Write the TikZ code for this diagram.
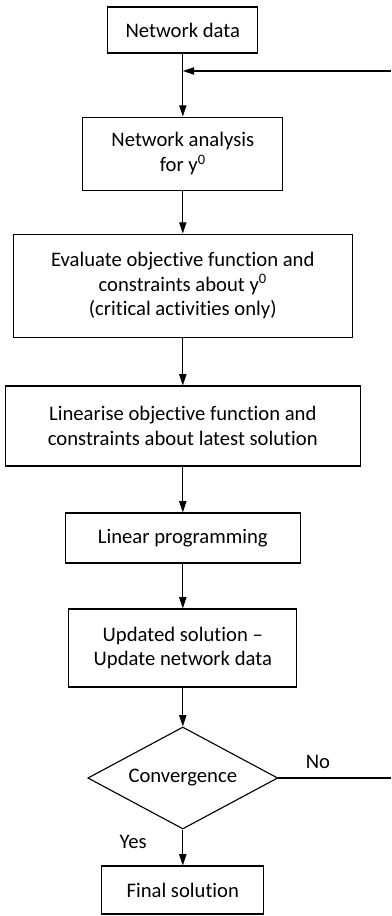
\documentclass[tikz,border=0pt]{standalone}
\usepackage{fontspec}
\setmainfont[Ligatures=NoCommon]{Carlito}
\usetikzlibrary{arrows.meta, shapes.geometric}

\begin{document}
\begin{tikzpicture}[
    stage/.style={draw, line width=0.8pt, align=center, inner sep=2pt,
                  font=\fontsize{14.7}{17.7}\selectfont},
    test/.style={stage, diamond, aspect=1.86, inner sep=0pt},
    lbl/.style={font=\fontsize{14.7}{17.7}\selectfont},
    arrow/.style={-{Triangle[length=2.8mm, width=1.8mm]}, line width=0.8pt},
    line/.style={line width=0.8pt}
]
    \useasboundingbox (0, 0) rectangle (9.775, -22.9);

    % --- main column of stages ---
    \node[stage, minimum width=3.75cm, minimum height=1.15cm] (data) at (4.57, -0.75) {Network data};
    \node[stage, minimum width=5.0cm, minimum height=1.825cm] (analysis) at (4.57, -3.84)
        {Network analysis\\for y\textsuperscript{0}};
    \node[stage, minimum width=8.475cm, minimum height=2.575cm] (evaluate) at (4.57, -7.14)
        {Evaluate objective function and\\constraints about y\textsuperscript{0}\\(critical activities only)};
    \node[stage, minimum width=8.875cm, minimum height=2.0cm] (linearise) at (4.57, -10.65)
        {Linearise objective function and\\constraints about latest solution};
    \node[stage, minimum width=5.875cm, minimum height=1.25cm] (lp) at (4.57, -13.45) {Linear programming};
    \node[stage, minimum width=5.7cm, minimum height=1.95cm] (update) at (4.57, -16.2)
        {Updated solution --\\Update network data};
    \node[test, minimum width=4.75cm, minimum height=2.55cm] (conv) at (4.57, -19.45) {Convergence};
    \node[stage, minimum width=4.05cm, minimum height=1.2cm] (final) at (4.57, -22.25) {Final solution};

    % --- downward flow ---
    \draw[arrow] (data) -- (analysis);
    \draw[arrow] (analysis) -- (evaluate);
    \draw[arrow] (evaluate) -- (linearise);
    \draw[arrow] (linearise) -- (lp);
    \draw[arrow] (lp) -- (update);
    \draw[arrow] (update) -- (conv);
    \draw[arrow] (conv) -- (final);

    % --- loop back when not converged ---
    \coordinate (loop_out) at (9.775, -19.45);
    \coordinate (loop_in) at (9.775, -1.775);
    \draw[line] (conv.east) -- (loop_out);
    \draw[arrow] (loop_in) -- (loop_in -| data.south);

    \node[lbl] (no) at (7.95, -19.05) {No};
    \node[lbl] (yes) at (3.33, -21.05) {Yes};
\end{tikzpicture}
\end{document}
